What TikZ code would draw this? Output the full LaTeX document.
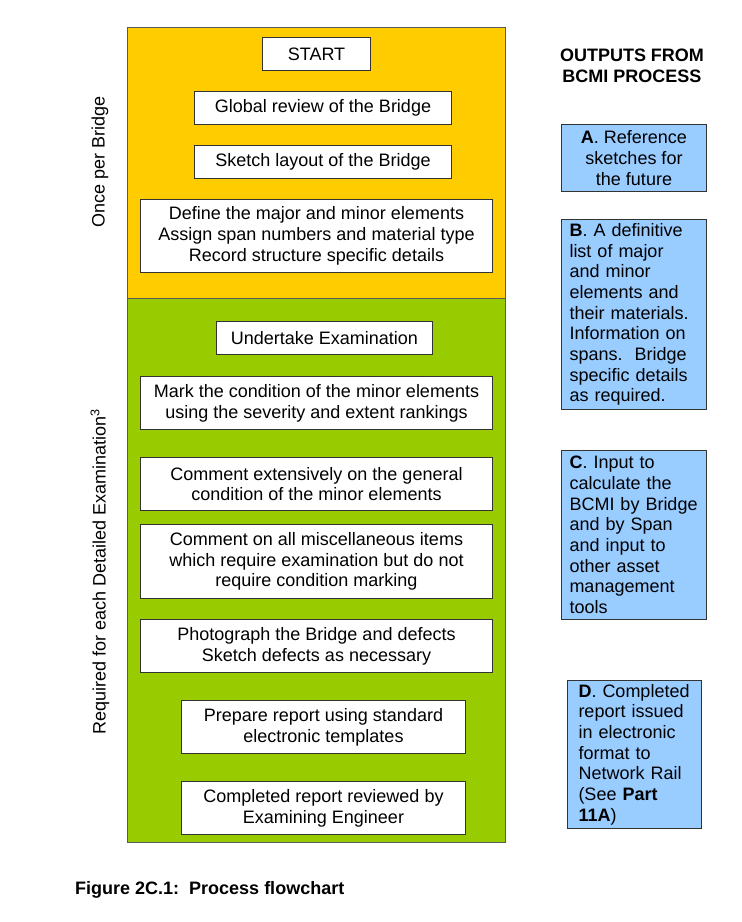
\documentclass[tikz,border=0pt]{standalone}
\usepackage{fontspec}
\setmainfont{Liberation Sans}
\definecolor{orangebg}{HTML}{FFCC00}
\definecolor{greenbg}{HTML}{99CC00}
\definecolor{bluebg}{HTML}{99CCFF}
\begin{document}
\begin{tikzpicture}[x=1pt,y=-1pt,
  font=\fontsize{18}{20.7}\selectfont,
  flowbox/.style={draw=black!80, fill=white, line width=1pt, inner sep=0pt, align=center, anchor=north west},
  outbox/.style={draw=black!80, fill=bluebg, line width=1pt, inner ysep=0pt, anchor=north west},
  sidelabel/.style={rotate=90, inner sep=0pt}]
\useasboundingbox[fill=white] (0,0) rectangle (742,922);
% panels
\fill[orangebg] (127,27) rectangle (505,298);
\fill[greenbg] (127,298) rectangle (505,842);
\draw[black!65, line width=1pt] (127,27) rectangle (505,842);
\draw[black!65, line width=1pt] (127,298) -- (505,298);
% flow boxes
\node[flowbox, minimum width=108pt, minimum height=33pt] (start) at (262,37) {START};
\node[flowbox, minimum width=257pt, minimum height=33pt] (global) at (194,91) {Global review of the Bridge};
\node[flowbox, minimum width=257pt, minimum height=33pt] (sketch) at (194,145) {Sketch layout of the Bridge};
\node[flowbox, minimum width=352pt, minimum height=73pt] (define) at (140,199) {Define the major and minor elements\\Assign span numbers and material type\\Record structure specific details};
\node[flowbox, minimum width=216pt, minimum height=33pt] (undertake) at (216,321) {Undertake Examination};
\node[flowbox, minimum width=352pt, minimum height=53pt] (mark) at (140,376) {Mark the condition of the minor elements\\using the severity and extent rankings};
\node[flowbox, minimum width=352pt, minimum height=53pt] (comment) at (140,457) {Comment extensively on the general\\condition of the minor elements};
\node[flowbox, minimum width=352pt, minimum height=74pt] (misc) at (140,524) {Comment on all miscellaneous items\\which require examination but do not\\require condition marking};
\node[flowbox, minimum width=352pt, minimum height=53pt] (photo) at (140,619) {Photograph the Bridge and defects\\Sketch defects as necessary};
\node[flowbox, minimum width=284pt, minimum height=53pt] (prepare) at (181,700) {Prepare report using standard\\electronic templates};
\node[flowbox, minimum width=284pt, minimum height=53pt] (reviewed) at (181,781) {Completed report reviewed by\\Examining Engineer};
% side labels
\node[sidelabel] (once) at (100,162) {Once per Bridge};
\node[sidelabel] (required) at (100,572) {Required for each Detailed Examination\textsuperscript{3}};
% outputs
\node[font=\fontsize{18}{20.7}\selectfont\bfseries, align=center] (title) at (632,66) {OUTPUTS FROM\\BCMI PROCESS};
\node[outbox, inner xsep=0pt, minimum width=145pt, minimum height=67pt, align=center] (outA) at (561,124) {\textbf{A}. Reference\\sketches for\\the future};
\node[outbox, inner xsep=8pt, text width=129pt, minimum height=190pt, align=left] (outB) at (561,219) {\textbf{B}. A definitive\\list of major\\and minor\\elements and\\their materials.\\Information on\\spans.\ \ Bridge\\specific details\\as required.};
\node[outbox, inner xsep=8pt, text width=129pt, minimum height=169pt, align=left] (outC) at (561,450) {\textbf{C}. Input to\\calculate the\\\mbox{BCMI by Bridge}\\and by Span\\and input to\\other asset\\management\\tools};
\node[outbox, inner xsep=11pt, text width=112pt, minimum height=148pt, align=left] (outD) at (567,680) {\textbf{D}. Completed\\report issued\\in electronic\\format to\\Network Rail\\(See \textbf{Part}\\\textbf{11A})};
% caption
\node[anchor=west, inner sep=0pt, font=\fontsize{18}{20.7}\selectfont\bfseries] (caption) at (75,890) {Figure 2C.1:\ \ Process flowchart};
\end{tikzpicture}
\end{document}
